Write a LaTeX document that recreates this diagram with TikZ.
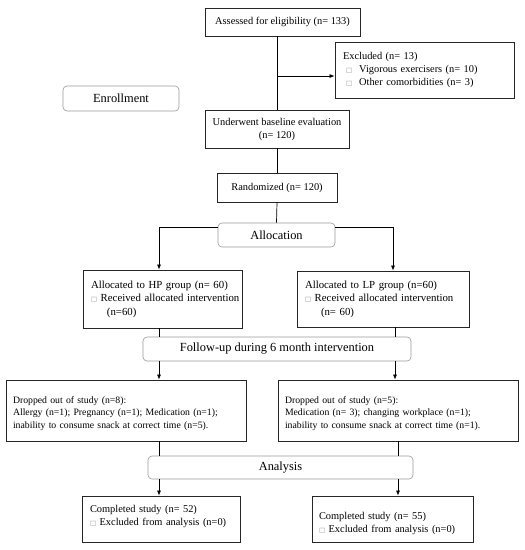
\documentclass[tikz,border=0pt]{standalone}
\usepackage{fontspec}
\setmainfont{Liberation Serif}
\newfontfamily\symfont{DejaVu Sans}
\usetikzlibrary{arrows.meta}
\newcommand{\sq}{{\color{black!45}\symfont\fontsize{6.5}{7}\selectfont □}}
\begin{document}
\begin{tikzpicture}[x=1pt,y=-1pt,
  box/.style={draw=black!85, line width=0.8pt, inner xsep=0pt, inner ysep=0pt, font=\fontsize{10.4}{13}\selectfont, align=center},
  lbox/.style={draw=black!85, line width=0.8pt, inner xsep=8pt, inner ysep=0pt, font=\fontsize{10.4}{13}\selectfont, align=left},
  stage/.style={draw=black!40, rounded corners=4pt, line width=0.6pt, font=\fontsize{12.4}{14}\selectfont, inner sep=0pt},
  arr/.style={-{Latex[length=5pt,width=4pt]}, line width=0.7pt},
  ln/.style={line width=0.7pt}]
\useasboundingbox (0,0) rectangle (525,550);

\node[box, minimum width=155, minimum height=28] (assess) at (282.5,22) {Assessed for eligibility (n= 133)};
\node[lbox, text width=163, minimum height=56] (excl) at (424.5,70) {Excluded (n= 13)\\\hspace*{3pt}\sq\hspace{7pt}Vigorous exercisers (n= 10)\\\hspace*{3pt}\sq\hspace{7pt}Other comorbidities (n= 3)};
\node[stage, minimum width=116, minimum height=25] (enroll) at (121,98.5) {Enrollment};
\node[box, minimum width=144, minimum height=38] (under) at (277,129) {Underwent baseline evaluation\\(n= 120)};
\node[box, minimum width=120, minimum height=29] (rand) at (277,187.5) {Randomized (n= 120)};
\node[stage, minimum width=117, minimum height=24] (alloc) at (276.5,235) {Allocation};
\node[lbox, font=\fontsize{10.8}{13.5}\selectfont, text width=143, minimum height=58] (hp) at (162.5,299) {\mbox{Allocated to HP group (n= 60)}\\\mbox{\sq\ Received allocated intervention}\\\hspace*{16pt}(n=60)};
\node[lbox, font=\fontsize{10.8}{13.5}\selectfont, text width=156, minimum height=56] (lp) at (383,299) {\mbox{Allocated to LP group (n=60)}\\\mbox{\sq\ Received allocated intervention}\\\hspace*{16pt}(n= 60)};
\node[stage, minimum width=268, minimum height=24] (follow) at (277,349) {Follow-up during 6 month intervention};
\node[lbox, font=\fontsize{9.75}{12.3}\selectfont, inner xsep=7pt, text width=226, minimum height=61, text height=8pt, text depth=22pt] (dropl) at (126,410.5) {Dropped out of study (n=8):\\\mbox{Allergy (n=1); Pregnancy (n=1); Medication (n=1);}\\\mbox{inability to consume snack at correct time (n=5).}};
\node[lbox, font=\fontsize{9.75}{12.3}\selectfont, inner xsep=7pt, text width=226, minimum height=61, text height=8pt, text depth=22pt] (dropr) at (398,410.5) {Dropped out of study (n=5):\\\mbox{Medication (n= 3); changing workplace (n=1);}\\\mbox{inability to consume snack at correct time (n=1).}};
\node[stage, minimum width=265, minimum height=23] (analysis) at (280.5,467.5) {Analysis};
\node[lbox, text width=142, minimum height=46, text height=8pt, text depth=21pt] (compl) at (161,519) {Completed study (n= 52)\\\mbox{\sq\ Excluded from analysis (n=0)}};
\node[lbox, inner xsep=7pt, text width=147, minimum height=46, text height=8pt, text depth=7pt] (compr) at (392.5,519) {Completed study (n= 55)\\\mbox{\sq\ Excluded from analysis (n=0)}};

% connectors
\coordinate (branch) at (277,76);
\draw[ln] (assess.south -| under.north) -- (under.north);
\draw[arr] (branch) -- (branch -| excl.west);
\draw[ln] (under.south) -- (rand.north);
\draw[ln] (rand.south) -- (alloc.north);
\coordinate (hpc) at (159,227);
\coordinate (lpc) at (393,227);
\draw[arr] (alloc.west |- hpc) -- (hpc) -- (hpc |- hp.north);
\draw[arr] (alloc.east |- lpc) -- (lpc) -- (lpc |- lp.north);
\coordinate (fl) at (159,349);
\coordinate (fr) at (395,349);
\draw[ln] (fl |- hp.south) -- (fl |- follow.north);
\draw[ln] (fr |- lp.south) -- (fr |- follow.north);
\draw[arr] (fl |- follow.south) -- (fl |- dropl.north);
\draw[arr] (fr |- follow.south) -- (fr |- dropr.north);
\coordinate (al) at (159,467);
\coordinate (ar) at (398,467);
\draw[ln] (al |- dropl.south) -- (al |- analysis.north);
\draw[ln] (ar |- dropr.south) -- (ar |- analysis.north);
\draw[arr] (al |- analysis.south) -- (al |- compl.north);
\draw[arr] (ar |- analysis.south) -- (ar |- compr.north);
\end{tikzpicture}
\end{document}
